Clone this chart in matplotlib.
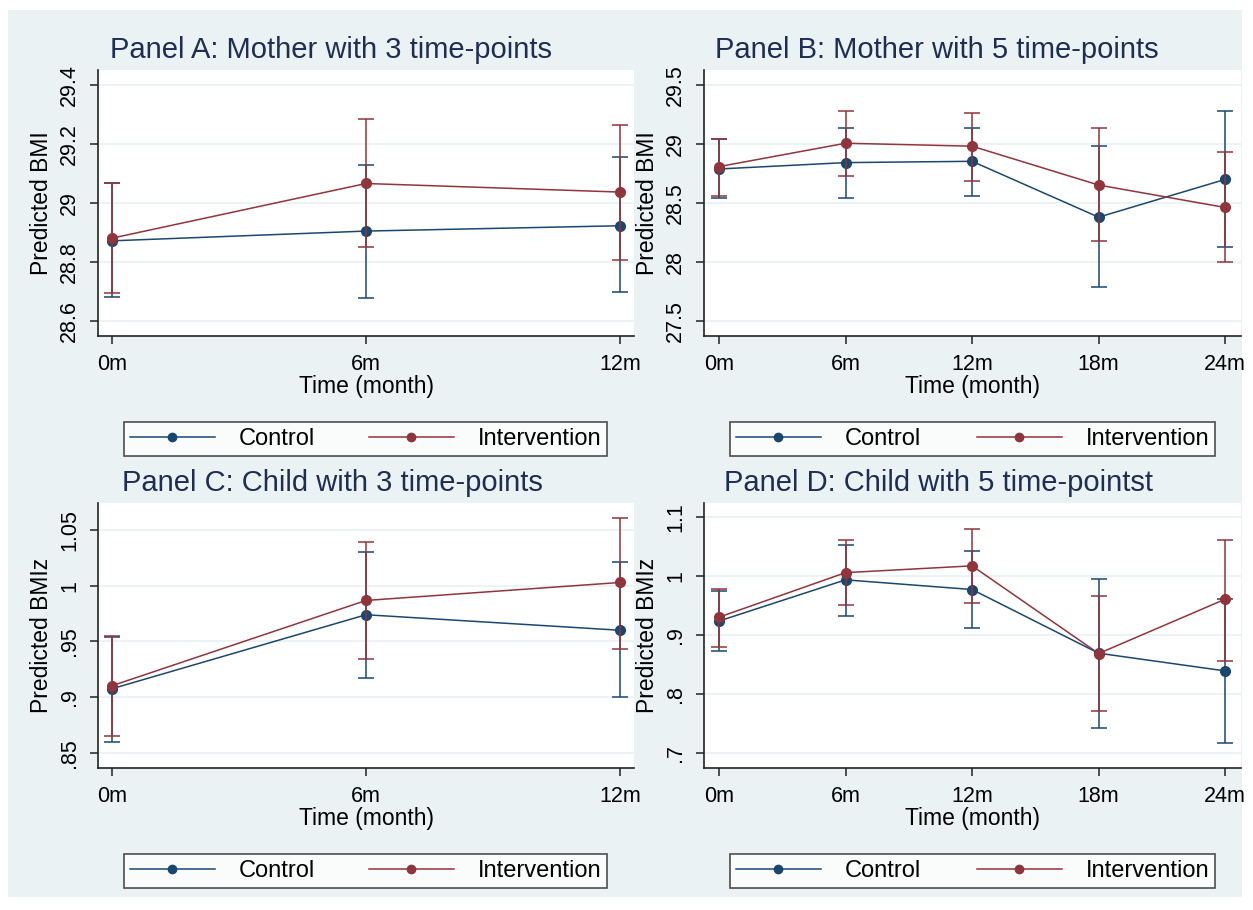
import matplotlib
matplotlib.use("Agg")
import matplotlib.pyplot as plt
from matplotlib.patches import Rectangle
from matplotlib.lines import Line2D

plt.rcParams['font.family'] = ['Liberation Sans', 'DejaVu Sans']

# --- data ---
months3 = [0, 6, 12]
months5 = [0, 6, 12, 18, 24]
xlab3 = ['0m', '6m', '12m']
xlab5 = ['0m', '6m', '12m', '18m', '24m']

# Panel A: mother, 3 time-points (BMI)
a_ctrl = [28.872, 28.905, 28.923]
a_ctrl_lo = [28.683, 28.677, 28.700]
a_ctrl_hi = [29.066, 29.130, 29.155]
a_int = [28.881, 29.066, 29.037]
a_int_lo = [28.694, 28.850, 28.807]
a_int_hi = [29.068, 29.283, 29.263]

# Panel B: mother, 5 time-points (BMI)
b_ctrl = [28.789, 28.843, 28.854, 28.381, 28.701]
b_ctrl_lo = [28.543, 28.543, 28.557, 27.786, 28.129]
b_ctrl_hi = [29.040, 29.135, 29.135, 28.982, 29.279]
b_int = [28.809, 29.007, 28.982, 28.653, 28.463]
b_int_lo = [28.562, 28.732, 28.684, 28.177, 27.999]
b_int_hi = [29.047, 29.279, 29.265, 29.135, 28.933]

# Panel C: child, 3 time-points (BMIz)
c_ctrl = [0.9076, 0.9739, 0.960]
c_ctrl_lo = [0.860, 0.917, 0.900]
c_ctrl_hi = [0.954, 1.030, 1.021]
c_int = [0.9103, 0.9867, 1.0028]
c_int_lo = [0.865, 0.934, 0.9434]
c_int_hi = [0.9545, 1.039, 1.061]

# Panel D: child, 5 time-points (BMIz)
d_ctrl = [0.924, 0.9938, 0.9774, 0.8695, 0.8395]
d_ctrl_lo = [0.874, 0.932, 0.913, 0.7435, 0.717]
d_ctrl_hi = [0.975, 1.052, 1.0435, 0.996, 0.962]
d_int = [0.9305, 1.006, 1.0175, 0.869, 0.961]
d_int_lo = [0.8797, 0.951, 0.955, 0.772, 0.857]
d_int_hi = [0.9785, 1.062, 1.080, 0.967, 1.0616]

yt_a = [28.6, 28.8, 29.0, 29.2, 29.4]
yl_a = ['28.6', '28.8', '29', '29.2', '29.4']
yt_b = [27.5, 28.0, 28.5, 29.0, 29.5]
yl_b = ['27.5', '28', '28.5', '29', '29.5']
yt_c = [0.85, 0.90, 0.95, 1.0, 1.05]
yl_c = ['.85', '.9', '.95', '1', '1.05']
yt_d = [0.7, 0.8, 0.9, 1.0, 1.1]
yl_d = ['.7', '.8', '.9', '1', '1.1']

# --- style ---
W, H = 1253, 910
BG = '#eaf2f3'
CTRL = '#1a476f'
INTV = '#90353b'
TITLE_C = '#1e2d53'


def fx(px):
    return px / W


def fy(py):
    return 1 - py / H


fig = plt.figure(figsize=(W / 100, H / 100), dpi=100)
fig.patch.set_facecolor('white')
fig.patches.append(Rectangle((fx(8), fy(897)), fx(1242) - fx(8), fy(10) - fy(897),
                             transform=fig.transFigure, facecolor=BG,
                             edgecolor='none', zorder=-10))


def series(ax, x, y, lo, hi, color, z):
    yerr = [[v - l for v, l in zip(y, lo)], [h - v for v, h in zip(y, hi)]]
    ax.errorbar(x, y, yerr=yerr, color=color, lw=1.1, marker='o', ms=7,
                capsize=6, capthick=1.1, elinewidth=1.1, zorder=z)


def panel(box, title, title_xy, x, xlab, xlim, ctrl, intv, yt, yl, ylim,
          ylabel, leg_box):
    l, r, t, b = box
    ax = fig.add_axes([fx(l), fy(b), fx(r) - fx(l), fy(t) - fy(b)])
    ax.set_facecolor('white')
    for s in ['top', 'right']:
        ax.spines[s].set_visible(False)
    for s in ['left', 'bottom']:
        ax.spines[s].set_color('#222222')
        ax.spines[s].set_linewidth(1.2)
    ax.set_yticks(yt)
    ax.set_yticklabels(yl)
    ax.set_ylim(ylim)
    ax.set_xticks(x)
    ax.set_xticklabels(xlab)
    ax.set_xlim(xlim)
    ax.yaxis.grid(True, color=BG, lw=1.3)
    ax.set_axisbelow(True)
    ax.tick_params(axis='both', direction='out', length=6, width=1.1,
                   color='#222222', labelsize=15.5, pad=7)
    plt.setp(ax.get_yticklabels(), rotation=90, va='center')
    ax.set_xlabel('Time (month)', fontsize=16.5, labelpad=0)
    ax.set_ylabel(ylabel, fontsize=16.5, labelpad=4)

    series(ax, x, ctrl[0], ctrl[1], ctrl[2], CTRL, 3)
    series(ax, x, intv[0], intv[1], intv[2], INTV, 4)

    fig.text(fx(title_xy[0]), fy(title_xy[1]), title, fontsize=21,
             color=TITLE_C, ha='center', va='center')

    handles = [Line2D([], [], color=CTRL, lw=1.1, marker='o', ms=6),
               Line2D([], [], color=INTV, lw=1.1, marker='o', ms=6)]
    x0, x1, y0, y1 = leg_box
    leg = fig.legend(handles, ['Control', 'Intervention'], ncol=2,
                     loc='lower left', mode='expand',
                     bbox_to_anchor=(fx(x0), fy(y1), fx(x1) - fx(x0), fy(y0) - fy(y1)),
                     bbox_transform=fig.transFigure, fontsize=17,
                     frameon=True, fancybox=False, handlelength=3.6,
                     handletextpad=1.0, borderpad=0.25, borderaxespad=0)
    leg.get_frame().set_edgecolor('#222222')
    leg.get_frame().set_linewidth(1.2)
    leg.get_frame().set_facecolor('white')
    return ax


panel((98, 634, 70, 336), 'Panel A: Mother with 3 time-points', (331, 50),
      months3, xlab3, (-0.33, 12.33),
      (a_ctrl, a_ctrl_lo, a_ctrl_hi), (a_int, a_int_lo, a_int_hi),
      yt_a, yl_a, (28.55, 29.45), 'Predicted BMI', (124, 607, 415, 456))

panel((704, 1241, 70, 336), 'Panel B: Mother with 5 time-points', (937, 50),
      months5, xlab5, (-0.71, 24.75),
      (b_ctrl, b_ctrl_lo, b_ctrl_hi), (b_int, b_int_lo, b_int_hi),
      yt_b, yl_b, (27.375, 29.627), 'Predicted BMI', (730, 1215, 415, 456))

panel((98, 634, 503, 768), 'Panel C: Child with 3 time-points', (332, 483),
      months3, xlab3, (-0.33, 12.33),
      (c_ctrl, c_ctrl_lo, c_ctrl_hi), (c_int, c_int_lo, c_int_hi),
      yt_c, yl_c, (0.8366, 1.074), 'Predicted BMIz', (124, 607, 848, 888))

panel((704, 1241, 503, 768), 'Panel D: Child with 5 time-pointst', (938, 483),
      months5, xlab5, (-0.71, 24.75),
      (d_ctrl, d_ctrl_lo, d_ctrl_hi), (d_int, d_int_lo, d_int_hi),
      yt_d, yl_d, (0.675, 1.124), 'Predicted BMIz', (730, 1215, 848, 888))

fig.savefig('out.png', dpi=100, facecolor=fig.get_facecolor())
